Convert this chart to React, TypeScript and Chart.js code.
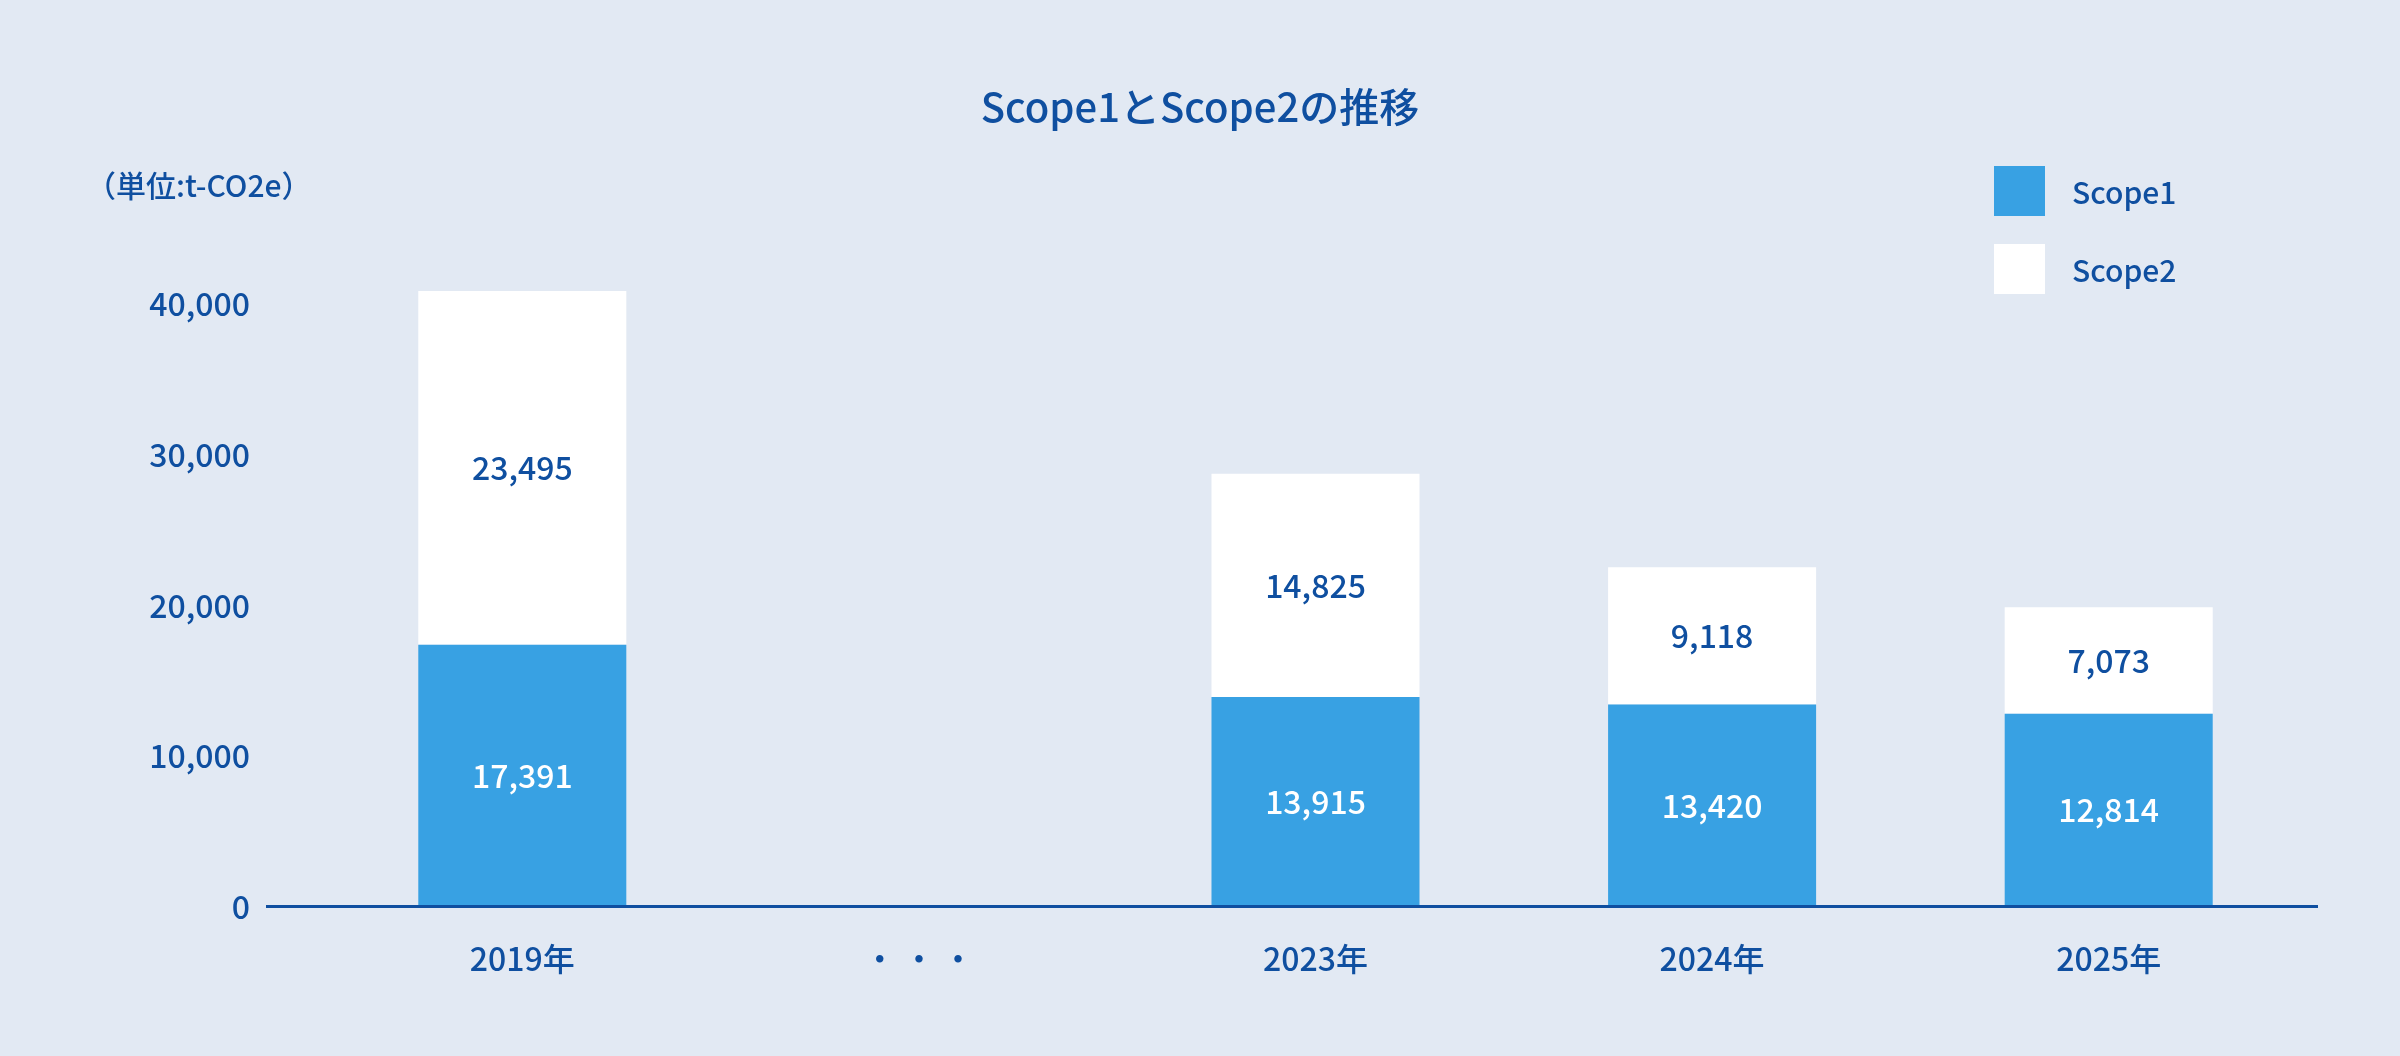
import { useEffect, useRef } from "react"
import Chart from "chart.js/auto"

// chart data
const categories = ["2019年", "・ ・ ・", "2023年", "2024年", "2025年"]
const seriesNames = ["Scope1", "Scope2"]
const scope1Values = [17391, null, 13915, 13420, 12814]
const scope2Values = [23495, null, 14825, 9118, 7073]
const yTickValues = [0, 10000, 20000, 30000, 40000]
const chartTitle = "Scope1とScope2の推移"
const unitLabel = "（単位:t-CO2e）"

const BG = "#e2e9f3"
const NAVY = "#0f4fa0"
const BLUE = "#38a1e3"
const WHITE = "#ffffff"
const FONT = '"Noto Sans CJK JP", "Noto Sans", sans-serif'

const fmt = (v: number) => v.toLocaleString("en-US")

// value labels centred inside each bar segment
const barLabels = {
  id: "barLabels",
  afterDatasetsDraw(chart: any) {
    const ctx = chart.ctx
    ctx.save()
    ctx.font = `500 32px ${FONT}`
    ctx.textAlign = "center"
    ctx.textBaseline = "middle"
    chart.data.datasets.forEach((ds: any, di: number) => {
      const meta = chart.getDatasetMeta(di)
      ctx.fillStyle = di === 0 ? WHITE : NAVY
      meta.data.forEach((bar: any, i: number) => {
        const v = ds.data[i]
        if (v == null) return
        const { x, y, base } = bar.getProps(["x", "y", "base"], true)
        ctx.fillText(fmt(v), x, (y + base) / 2)
      })
    })
    ctx.restore()
  },
}

// title, baseline, legend and unit note
const decorations = {
  id: "decorations",
  afterDraw(chart: any) {
    const ctx = chart.ctx
    const area = chart.chartArea
    const y0 = chart.scales.y.getPixelForValue(0)
    ctx.save()
    ctx.strokeStyle = NAVY
    ctx.lineWidth = 3
    ctx.beginPath()
    ctx.moveTo(area.left - 58, y0)
    ctx.lineTo(area.right + 11, y0)
    ctx.stroke()

    ctx.fillStyle = NAVY
    ctx.textBaseline = "middle"
    ctx.textAlign = "center"
    ctx.font = `500 40px ${FONT}`
    ctx.fillText(chartTitle, chart.width / 2, 107)

    ctx.font = `500 30px ${FONT}`
    ctx.textAlign = "left"
    chart.data.datasets.forEach((ds: any, i: number) => {
      const bx = 1994
      const by = 166 + i * 78
      ctx.fillStyle = ds.backgroundColor
      ctx.fillRect(bx, by, 51, 50)
      ctx.fillStyle = NAVY
      ctx.fillText(ds.label, bx + 78, by + 27)
    })

    ctx.fillText(unitLabel, 86, 186)
    ctx.restore()
  },
}

export default function App() {
  const canvasRef = useRef<HTMLCanvasElement>(null)
  const chartRef = useRef<Chart | null>(null)

  useEffect(() => {
    document.body.style.margin = "0"
    if (!canvasRef.current) return
    if (chartRef.current) chartRef.current.destroy()

    chartRef.current = new Chart(canvasRef.current, {
      type: "bar",
      data: {
        labels: categories,
        datasets: [
          {
            label: seriesNames[0],
            data: scope1Values,
            backgroundColor: BLUE,
            barPercentage: 0.5245,
            categoryPercentage: 1,
          },
          {
            label: seriesNames[1],
            data: scope2Values,
            backgroundColor: WHITE,
            barPercentage: 0.5245,
            categoryPercentage: 1,
          },
        ],
      },
      options: {
        animation: false,
        responsive: true,
        maintainAspectRatio: false,
        layout: { padding: { top: 229, right: 93, bottom: 45, left: 0 } },
        plugins: {
          legend: { display: false },
          tooltip: { enabled: false },
          title: { display: false },
        },
        scales: {
          x: {
            stacked: true,
            grid: { display: false, drawTicks: false },
            border: { display: false },
            ticks: {
              color: NAVY,
              font: { family: FONT, size: 32, weight: "500" },
              padding: 33,
              maxRotation: 0,
            },
          },
          y: {
            stacked: true,
            min: 0,
            max: 45000,
            grid: { display: false, drawTicks: false },
            border: { display: false },
            afterBuildTicks: (scale: any) => {
              scale.ticks = yTickValues.map((value) => ({ value }))
            },
            afterFit: (scale: any) => {
              scale.width = 324
            },
            ticks: {
              color: NAVY,
              font: { family: FONT, size: 32, weight: "500" },
              padding: 74,
              callback: (v: any) => fmt(Number(v)),
            },
          },
        },
      },
      plugins: [barLabels, decorations],
    })

    return () => {
      if (chartRef.current) {
        chartRef.current.destroy()
        chartRef.current = null
      }
    }
  }, [])

  return (
    <div style={{ width: 2400, height: 1056, background: BG, position: "relative" }}>
      <canvas ref={canvasRef} />
    </div>
  )
}
